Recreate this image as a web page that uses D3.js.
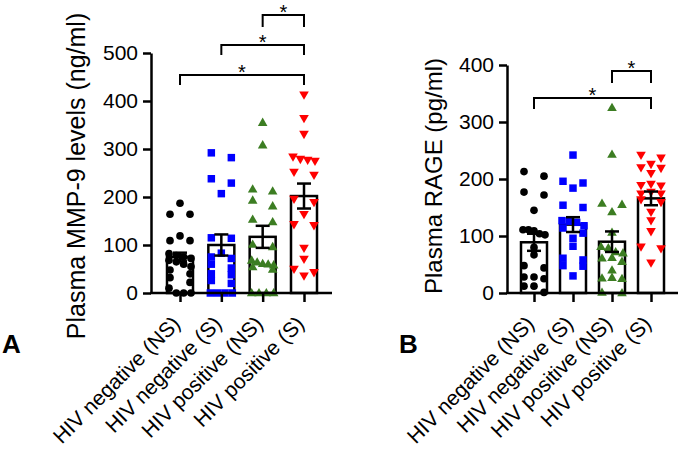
<!DOCTYPE html>
<html><head><meta charset="utf-8">
<script src="https://cdn.jsdelivr.net/npm/d3@7"></script>
<style>
body{margin:0;background:#fff}
svg{display:block}
</style>
</head><body>
<svg id="chart" width="680" height="455"></svg>
<script>
// ---------------- data ----------------
const categories = ["HIV negative (NS)", "HIV negative (S)", "HIV positive (NS)", "HIV positive (S)"];
const groupColors = ["#000000", "#0000ff", "#3c7d22", "#ff0000"];
const groupSymbols = ["circle", "square", "triangle", "triangleDown"];

const mmp9Ticks = [0, 100, 200, 300, 400, 500];
const rageTicks = [0, 100, 200, 300, 400];

// Panel A: Plasma MMP-9 (ng/ml)
const mmp9HivNegNS = [187, 164, 164, 119, 109, 109, 82, 78, 75, 72, 68, 65, 60, 55, 48, 40, 32, 22, 10, 0, 0, 0];
const mmp9HivNegS = [292, 282, 238, 229, 207, 115, 114, 83, 75, 72, 60, 52, 40, 38, 26, 20, 0, 0, 0, 0];
const mmp9HivPosNS = [355, 308, 216, 212, 193, 181, 153, 148, 101, 96, 68, 64, 61, 60, 58, 54, 49, 0, 0, 0, 0];
const mmp9HivPosS = [414, 365, 332, 285, 280, 278, 276, 253, 247, 197, 190, 165, 144, 142, 95, 72, 51, 44, 37];
const mmp9Mean = [75, 100, 117, 202];
const mmp9Sem = [9, 22, 23, 26];
const mmp9Comparisons = [[0, 3], [1, 3], [2, 3]];

// Panel B: Plasma RAGE (pg/ml)
const rageHivNegNS = [213, 205, 177, 172, 145, 111, 111, 109, 104, 102, 80, 67, 48, 44, 28, 28, 25, 12, 12, 1];
const rageHivNegS = [242, 196, 193, 184, 154, 150, 127, 126, 124, 118, 114, 105, 96, 82, 61, 58, 48, 47, 30];
const rageHivPosNS = [325, 243, 157, 155, 142, 106, 81, 79, 72, 70, 62, 61, 55, 40, 27, 26, 25, 1, 0];
const rageHivPosS = [243, 238, 227, 221, 220, 211, 192, 190, 189, 178, 175, 175, 165, 160, 143, 128, 109, 82, 79, 54];
const rageMean = [89, 120, 90, 166];
const rageSem = [15, 13, 18, 12];
const rageComparisons = [[0, 3], [2, 3]];

// ---------------- layout ----------------
const FONT = '"Liberation Sans", Arial, Helvetica';
const panels = [
  {
    letter: "A", title: "Plasma MMP-9 levels (ng/ml)", titleSize: 25,
    groups: [mmp9HivNegNS, mmp9HivNegS, mmp9HivPosNS, mmp9HivPosS],
    mean: mmp9Mean, sem: mmp9Sem, ticks: mmp9Ticks, comps: mmp9Comparisons,
    yDomain: [0, 500], yRange: [293, 53], xRange: [180, 304], axisX: [151, 332],
    titleX: 85, titleY: 176, letterX: 2, letterY: 353,
    bracketY: [75, 45, 15], legs: [10, 10, 12]
  },
  {
    letter: "B", title: "Plasma RAGE (pg/ml)", titleSize: 24,
    groups: [rageHivNegNS, rageHivNegS, rageHivPosNS, rageHivPosS],
    mean: rageMean, sem: rageSem, ticks: rageTicks, comps: rageComparisons,
    yDomain: [0, 400], yRange: [293, 65], xRange: [534, 651], axisX: [507, 678],
    titleX: 442, titleY: 176, letterX: 399, letterY: 353,
    bracketY: [98, 71], legs: [11, 12]
  }
];

const svg = d3.select("#chart");
svg.append("rect").attr("width", 680).attr("height", 455).attr("fill", "#fff");

const symbolTypes = {
  circle: d3.symbolCircle, square: d3.symbolSquare,
  triangle: d3.symbolTriangle, triangleDown: d3.symbolTriangle
};
const symbolSizes = { circle: 46, square: 56, triangle: 40, triangleDown: 40 };

// GraphPad-like scatter: points with near-equal values are spread in rows
function swarmOffsets(values, y) {
  const idx = values.map((v, i) => i).sort((a, b) => values[b] - values[a]);
  const rows = [];
  let cur = null;
  idx.forEach(i => {
    const py = y(values[i]);
    if (cur && py - cur.y0 < 6.5) cur.items.push(i);
    else { cur = { y0: py, items: [i] }; rows.push(cur); }
  });
  const off = new Array(values.length).fill(0);
  rows.forEach(r => {
    const n = r.items.length;
    r.items.forEach((i, k) => {
      let o;
      if (n === 1) o = 0;
      else if (n === 2) o = k === 0 ? -10 : 10;
      else if (n === 3) o = [0, -10, 10][k];
      else o = -11 + 22 * k / (n - 1);
      off[i] = o;
    });
  });
  return off;
}

function styleText(sel, size, weight) {
  sel.style("font-family", FONT).style("font-size", size + "px")
     .style("font-weight", weight || "normal").style("fill", "#000");
}

panels.forEach(p => {
  const g = svg.append("g");
  const y = d3.scaleLinear().domain(p.yDomain).range(p.yRange);
  const x = d3.scalePoint().domain(categories).range(p.xRange);
  const barW = 26, capW = 14;
  const baseY = y(0);

  // bars
  g.selectAll("rect.bar").data(p.mean).join("rect")
    .attr("class", "bar")
    .attr("x", (d, i) => x(categories[i]) - barW / 2)
    .attr("y", d => y(d))
    .attr("width", barW)
    .attr("height", d => baseY - y(d))
    .attr("fill", "#fff").attr("stroke", "#000").attr("stroke-width", 2.5);

  // points
  p.groups.forEach((vals, gi) => {
    const offs = swarmOffsets(vals, y);
    const st = groupSymbols[gi];
    const sym = d3.symbol().type(symbolTypes[st]).size(symbolSizes[st]);
    g.selectAll("path.pt" + gi).data(vals).join("path")
      .attr("class", "pt" + gi)
      .attr("d", sym)
      .attr("transform", (d, i) => {
        const cx = x(categories[gi]) + offs[i];
        const cy = y(d);
        if (st === "triangleDown") return `translate(${cx},${cy}) rotate(180)`;
        if (st === "triangle") return `translate(${cx},${cy + 0.5})`;
        return `translate(${cx},${cy})`;
      })
      .attr("fill", groupColors[gi]);
  });

  // error bars (mean ± SEM)
  p.mean.forEach((m, i) => {
    const cx = x(categories[i]);
    const top = y(m + p.sem[i]), bot = y(m - p.sem[i]);
    const eg = g.append("g").attr("stroke", "#000").attr("stroke-width", 2.5);
    eg.append("line").attr("x1", cx).attr("x2", cx).attr("y1", top).attr("y2", bot);
    eg.append("line").attr("x1", cx - capW / 2).attr("x2", cx + capW / 2).attr("y1", top).attr("y2", top);
    eg.append("line").attr("x1", cx - capW / 2).attr("x2", cx + capW / 2).attr("y1", bot).attr("y2", bot);
  });

  // y axis
  const yAxis = g.append("g").attr("transform", `translate(${p.axisX[0]},0)`)
    .call(d3.axisLeft(y).tickValues(p.ticks).tickSize(8).tickSizeOuter(0).tickPadding(5));
  yAxis.attr("font-family", null).attr("font-size", null);
  yAxis.select(".domain").attr("stroke-width", 2.5);
  yAxis.selectAll(".tick line").attr("stroke-width", 2.5);
  yAxis.selectAll(".tick text").call(styleText, 21);

  // x axis
  const xAxis = g.append("g").attr("transform", `translate(0,${baseY})`)
    .call(d3.axisBottom(x).tickSize(9).tickSizeOuter(0));
  xAxis.attr("font-family", null).attr("font-size", null);
  xAxis.select(".domain").remove();
  xAxis.selectAll(".tick line").attr("stroke-width", 2.5);
  xAxis.selectAll(".tick text")
    .call(styleText, 21)
    .attr("text-anchor", "end")
    .attr("dy", 0).attr("y", 0)
    .attr("transform", "translate(1,32) rotate(-45)");
  g.append("line").attr("x1", p.axisX[0] - 1).attr("x2", p.axisX[1])
    .attr("y1", baseY).attr("y2", baseY).attr("stroke", "#000").attr("stroke-width", 2.5);

  // y title
  g.append("text").attr("transform", `translate(${p.titleX},${p.titleY}) rotate(-90)`)
    .attr("text-anchor", "middle").call(styleText, p.titleSize).text(p.title);

  // panel letter
  g.append("text").attr("x", p.letterX).attr("y", p.letterY)
    .call(styleText, 26, "bold").text(p.letter);

  // significance brackets
  p.comps.forEach((c, k) => {
    const x1 = x(categories[c[0]]), x2 = x(categories[c[1]]);
    const by = p.bracketY[k], leg = p.legs[k];
    g.append("path")
      .attr("d", `M${x1},${by + leg}V${by}H${x2}V${by + leg}`)
      .attr("fill", "none").attr("stroke", "#000").attr("stroke-width", 2);
    g.append("text").attr("x", (x1 + x2) / 2).attr("y", by + 4)
      .attr("text-anchor", "middle").call(styleText, 20).text("*");
  });
});
</script>
</body></html>
